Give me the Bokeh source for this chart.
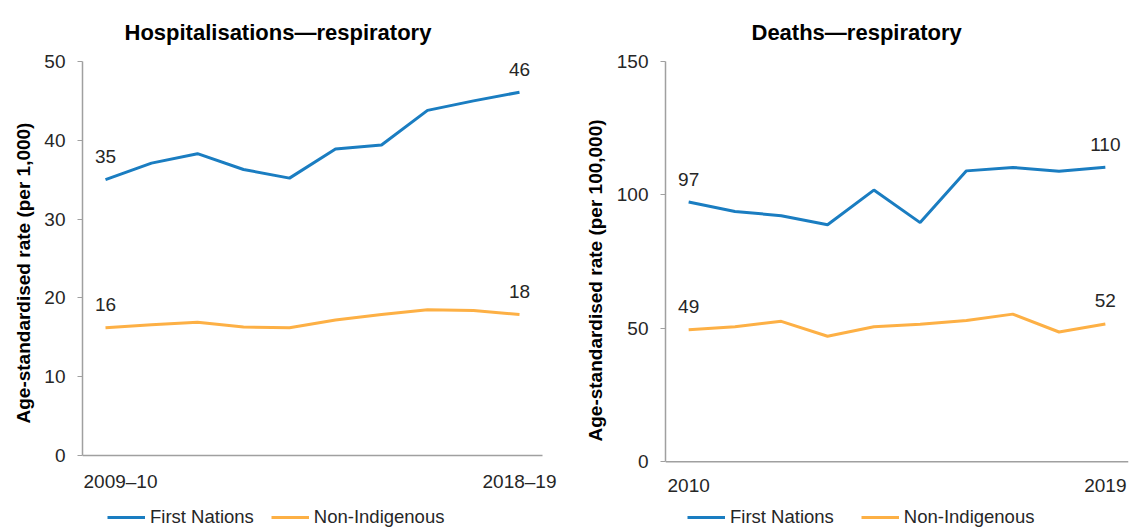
from bokeh.plotting import figure
from bokeh.layouts import row
from bokeh.models import Legend, LegendItem, FixedTicker, Range1d, Title, ColumnDataSource
from bokeh.embed import file_html
from bokeh.resources import INLINE
from bokeh.core.properties import value

# ---- data ----
hosp_periods = ["2009–10", "2010–11", "2011–12", "2012–13", "2013–14",
                "2014–15", "2015–16", "2016–17", "2017–18", "2018–19"]
hosp_first_nations = [35.0, 37.1, 38.3, 36.3, 35.2, 38.9, 39.4, 43.8, 45.0, 46.1]
hosp_non_indigenous = [16.2, 16.6, 16.9, 16.3, 16.2, 17.2, 17.9, 18.5, 18.4, 17.9]

death_years = ["2010", "2011", "2012", "2013", "2014",
               "2015", "2016", "2017", "2018", "2019"]
death_first_nations = [97.3, 93.8, 92.2, 88.8, 101.8, 89.6, 109.0, 110.3, 108.9, 110.4]
death_non_indigenous = [49.4, 50.6, 52.6, 47.0, 50.6, 51.5, 52.9, 55.3, 48.6, 51.6]

hosp_yticks = [0, 10, 20, 30, 40, 50]
death_yticks = [0, 50, 100, 150]

BLUE = "#1A7DC1"
ORANGE = "#FDB045"
FONT = "Liberation Sans"
AXIS_GRAY = "#A0A0A0"
TEXT = "#262626"
H = 527


def make_chart(title, periods, fn, ni, yticks, ylabel, width, bl, br, pad_r, top, zero_y,
               title_off, ytitle_off, leg_x, spacing, xlab_off, first_left):
    n = len(periods)
    ymax = yticks[-1]
    # frame runs from `top` to the canvas bottom; zero sits at `zero_y`
    ymin = -ymax * (H - zero_y) / (zero_y - top)
    p = figure(width=width, height=H, output_backend="svg", toolbar_location=None,
               x_range=Range1d(-0.5, n - 0.5 + pad_r), y_range=Range1d(ymin, ymax),
               x_axis_location=None,
               min_border_left=bl, min_border_right=br, min_border_top=top, min_border_bottom=0)
    p.outline_line_color = None
    p.grid.visible = False
    p.background_fill_color = None
    p.border_fill_color = None

    t = Title(text=title, align="left", offset=title_off, standoff=33, text_font=FONT,
              text_font_size="22px", text_font_style="bold", text_color="#000000")
    p.add_layout(t, "above")

    xs = list(range(n))
    # x axis line along zero, spanning the category band
    p.segment(x0=[-0.5], y0=[0], x1=[n - 0.5], y1=[0], line_color=AXIS_GRAY, line_width=1.5)

    r1 = p.line(xs, fn, line_color=BLUE, line_width=3)
    r2 = p.line(xs, ni, line_color=ORANGE, line_width=3)

    lab_x = [xs[0], xs[-1], xs[0], xs[-1]]
    lab_y = [fn[0], fn[-1], ni[0], ni[-1]]
    lab_t = [f"{round(v)}" for v in lab_y]
    src = ColumnDataSource(dict(x=lab_x, y=lab_y, t=lab_t))
    p.text("x", "y", text="t", source=src, text_align="center", text_baseline="middle",
           y_offset=-23, text_font=value(FONT), text_font_size="19px", text_color=TEXT)

    # x tick labels (first and last period only)
    if first_left:
        p.text(x=[xs[0] - 0.5], y=[0], text=[periods[0]], text_align="left",
               text_baseline="middle", x_offset=1, y_offset=xlab_off, text_font=value(FONT),
               text_font_size="19px", text_color=TEXT)
        p.text(x=[xs[-1]], y=[0], text=[periods[-1]], text_align="center",
               text_baseline="middle", y_offset=xlab_off, text_font=value(FONT),
               text_font_size="19px", text_color=TEXT)
    else:
        xsrc = ColumnDataSource(dict(x=[xs[0], xs[-1]], y=[0, 0], t=[periods[0], periods[-1]]))
        p.text("x", "y", text="t", source=xsrc, text_align="center", text_baseline="middle",
               y_offset=xlab_off, text_font=value(FONT), text_font_size="19px", text_color=TEXT)

    p.yaxis.bounds = (yticks[0], yticks[-1])
    p.yaxis.ticker = FixedTicker(ticks=yticks)
    p.yaxis.minor_tick_line_color = None
    p.yaxis.major_tick_in = 0
    p.yaxis.major_tick_out = 5
    p.yaxis.major_tick_line_color = AXIS_GRAY
    p.yaxis.axis_line_color = AXIS_GRAY
    p.yaxis.axis_line_width = 1.5
    p.yaxis.major_label_text_font = FONT
    p.yaxis.major_label_text_font_size = "19px"
    p.yaxis.major_label_text_color = TEXT
    p.yaxis.major_label_standoff = 12

    yt = Title(text=ylabel, align="left", offset=ytitle_off, standoff=15,
               text_font=FONT, text_font_size="19px", text_font_style="bold",
               text_color="#000000")
    p.add_layout(yt, "left")

    leg = Legend(items=[LegendItem(label="First Nations", renderers=[r1]),
                        LegendItem(label="Non-Indigenous", renderers=[r2])],
                 orientation="horizontal", location=(leg_x, -1),
                 glyph_width=38, glyph_height=16, label_standoff=5, spacing=spacing,
                 label_text_font=FONT, label_text_font_size="18.5px", label_text_color=TEXT,
                 border_line_color=None, background_fill_alpha=0, padding=0, margin=0)
    p.add_layout(leg, "center")
    return p


left = make_chart("Hospitalisations—respiratory", hosp_periods, hosp_first_nations,
                  hosp_non_indigenous, hosp_yticks, "Age-standardised rate (per 1,000)",
                  width=575, bl=82, br=10, pad_r=0.5, top=61, zero_y=455,
                  title_off=42, ytitle_off=104, leg_x=25, spacing=17, xlab_off=26,
                  first_left=True)
right = make_chart("Deaths—respiratory", death_years, death_first_nations,
                   death_non_indigenous, death_yticks, "Age-standardised rate (per 100,000)",
                   width=557, bl=90, br=4, pad_r=0, top=60, zero_y=461,
                   title_off=86, ytitle_off=86, leg_x=22, spacing=27, xlab_off=24,
                   first_left=False)

layout = row(left, right)
open("out.html", "w").write(file_html(layout, INLINE))
